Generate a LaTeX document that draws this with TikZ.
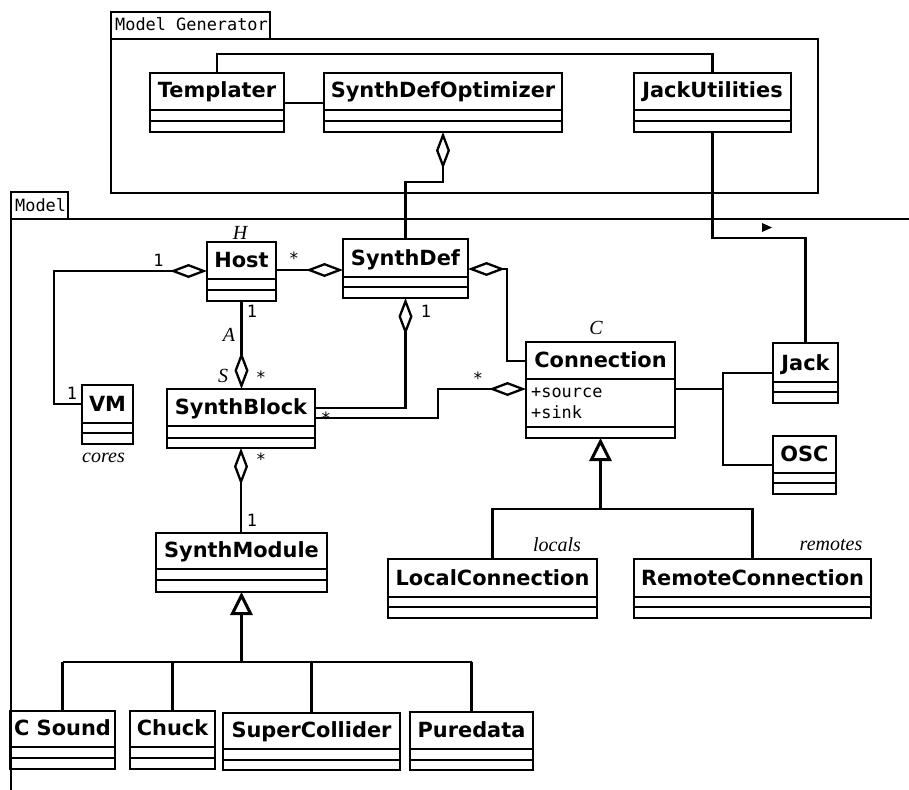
\documentclass[tikz,border=0pt]{standalone}
\usepackage{fontspec}
\newfontfamily\clsff{DejaVu Sans}
\newfontfamily\monoff{DejaVu Sans Mono}
\newfontfamily\roleff{Liberation Serif}
\usetikzlibrary{fit,arrows.meta}
\tikzset{
  clsbox/.style={draw, line width=2.9pt, inner sep=0pt, outer sep=0pt},
  cline/.style={line width=2.9pt},
  clsname/.style={font=\clsff\bfseries\fontsize{20.9}{24}\selectfont, inner sep=0pt, anchor=base},
  mono/.style={font=\monoff\fontsize{16.9}{20}\selectfont, inner sep=0pt},
  role/.style={font=\roleff\itshape\fontsize{20}{24}\selectfont, inner sep=0pt, anchor=base},
  conn/.style={line width=2.3pt},
  pkg/.style={line width=2.5pt, inner sep=0pt, outer sep=0pt},
  agg/.style={line width=2.3pt, {Diamond[open,length=37pt,width=14pt]}-},
  gen/.style={line width=3pt, -{Triangle[open,length=23pt,width=22pt]}},
}
\newcommand{\umlclass}[8]{%
  \node[clsbox, fit={(#2,#3)(#4,#5)}] (#1) {};
  \draw[cline] (#2,#6) -- (#4,#6) (#2,#7) -- (#4,#7);
  \node[clsname] (#1-name) at ({(#2+#4)/2},{#6-12}) {#8};
}
\begin{document}
\begin{tikzpicture}[x=1pt,y=-1pt]
\useasboundingbox (0,0) rectangle (909,789);
% packages
\node[draw, pkg, fit={(111,12)(270,39)}] (mgtab) {};
\node[mono, anchor=base west] (mgtext) at (115,31) {Model Generator};
\node[draw, pkg, fit={(111,39)(818,193)}] (mgbody) {};
\node[draw, pkg, fit={(11,192)(68,219)}] (mtab) {};
\node[mono, anchor=base west] (mtext) at (15,211) {Model};
\coordinate (mtr) at (912,219);
\coordinate (mtl) at (11,219);
\coordinate (mbl) at (11,792);
\draw[pkg] (mtr) -- (mtl) -- (mbl);
% classes
\umlclass{templater}{150}{73}{284}{132}{110}{121}{Templater}
\umlclass{optim}{324}{73}{562}{132}{110}{121}{SynthDefOptimizer}
\umlclass{jacku}{634}{73}{791}{132}{110}{121}{JackUtilities}
\umlclass{host}{207}{242}{276}{301}{279}{290}{Host}
\umlclass{sdef}{343}{239}{468}{298}{277}{287}{SynthDef}
\umlclass{conn}{526}{342}{675}{438}{379}{427}{Connection}
\umlclass{jack}{773}{343}{838}{403}{382}{392}{Jack}
\umlclass{osc}{773}{436}{836}{494}{473}{483}{OSC}
\umlclass{vm}{82}{385}{133}{444}{423}{433}{VM}
\umlclass{sblock}{167}{389}{315}{448}{426}{438}{SynthBlock}
\umlclass{smodule}{156}{533}{327}{592}{569}{580}{SynthModule}
\umlclass{localc}{388}{559}{597}{618}{597}{607}{LocalConnection}
\umlclass{remotec}{634}{559}{871}{618}{597}{607}{RemoteConnection}
\umlclass{csound}{10}{711}{115}{769}{747}{758}{C Sound}
\umlclass{chuck}{130}{711}{215}{769}{747}{758}{Chuck}
\umlclass{scoll}{223}{713}{400}{770}{749}{760}{SuperCollider}
\umlclass{pure}{410}{712}{533}{770}{749}{760}{Puredata}
\node[mono, anchor=base west] (src) at (531,397) {+source};
\node[mono, anchor=base west] (snk) at (531,418) {+sink};
% connectors
\draw[conn] (templater.north) -- (templater.north |- 0,54) -- (jacku.north |- 0,54) -- (jacku.north);
\draw[conn] (templater.east |- 0,103) -- (optim.west |- 0,103);
\draw[agg] (optim.south) -- (optim.south |- 0,182) -| (sdef.north);
\draw[conn] (jacku.south) -- (jacku.south |- 0,238) -| (jack.north);
\fill (762,223) -- (772,227.5) -- (762,232) -- cycle;
\draw[agg] (host.west |- 0,271) -- (54,271) |- (vm.west |- 0,404);
\draw[agg] (sdef.west |- 0,270) -- (host.east |- 0,270);
\draw[agg] (host.south |- sblock.north) -- (host.south);
\draw[agg] (sdef.south) -- (sdef.south |- 0,408) -- (sblock.east |- 0,408);
\draw[agg] (sdef.east |- 0,269) -- (507,269) |- (conn.west |- 0,361);
\draw[agg] (conn.west |- 0,389) -- (438,389) |- (sblock.east |- 0,418);
\coordinate (jb) at (723,389);
\draw[conn] (conn.east |- jb) -- (jb);
\draw[conn] (jack.west |- 0,373) -- (723,373) -- (723,465) -- (osc.west |- 0,465);
\draw[agg] (sblock.south) -- (sblock.south |- smodule.north);
\coordinate (gs) at (241,662);
\draw[gen] (smodule.south |- gs) -- (smodule.south);
\draw[conn] (csound.north |- gs) -- (pure.north |- gs);
\foreach \c in {csound,chuck,scoll,pure} \draw[conn] (\c.north |- gs) -- (\c.north);
\coordinate (gc) at (600,509);
\draw[gen] (conn.south |- gc) -- (conn.south);
\draw[conn] (localc.north) -- (localc.north |- gc) -- (remotec.north |- gc) -- (remotec.north);
% multiplicities
\node[mono, anchor=north] (m1) at (158.5,254) {1};
\node[mono, anchor=north] (m2) at (72,387) {1};
\node[mono, anchor=north] (m3) at (294,252) {*};
\node[mono, anchor=north] (m4) at (252,305) {1};
\node[mono, anchor=north] (m5) at (261,371) {*};
\node[mono, anchor=north] (m6) at (426,305) {1};
\node[mono, anchor=north] (m7) at (326,412) {*};
\node[mono, anchor=north] (m8) at (478,372) {*};
\node[mono, anchor=north] (m9) at (261,453) {*};
\node[mono, anchor=north] (m10) at (252,514) {1};
% roles
\node[role] (rH) at (240,239) {H};
\node[role] (rA) at (229,341) {A};
\node[role] (rS) at (223,382) {S};
\node[role] (rC) at (596,334) {C};
\node[role] (rcores) at (103.5,462) {cores};
\node[role] (rloc) at (557,551) {locals};
\node[role] (rrem) at (831,550) {remotes};
\end{tikzpicture}
\end{document}
